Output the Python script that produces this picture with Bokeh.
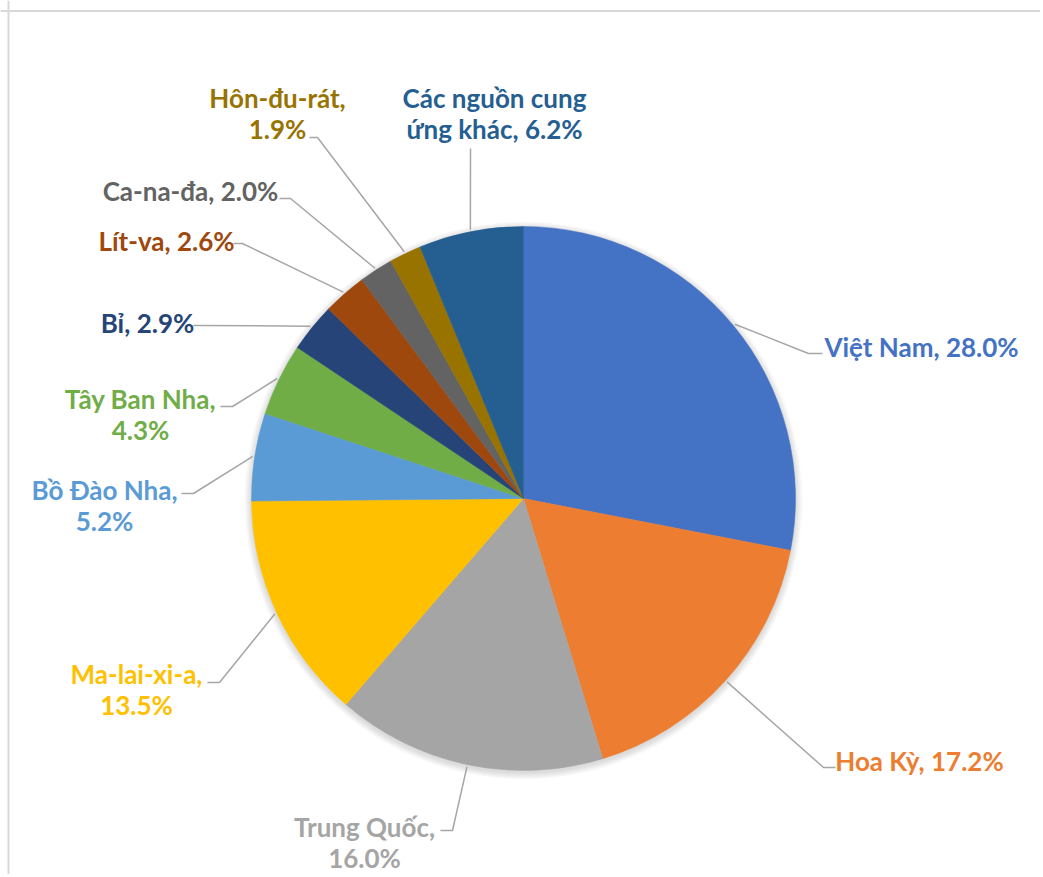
import math
from bokeh.plotting import figure
from bokeh.models import Range1d, Span, ColumnDataSource
from bokeh.core.properties import value
from bokeh.embed import file_html
from bokeh.resources import INLINE

# ---------------- data ----------------
countries = ["Việt Nam", "Hoa Kỳ", "Trung Quốc", "Ma-lai-xi-a", "Bồ Đào Nha",
             "Tây Ban Nha", "Bỉ", "Lít-va", "Ca-na-đa", "Hôn-đu-rát",
             "Các nguồn cung ứng khác"]
shares = [28.0, 17.2, 16.0, 13.5, 5.2, 4.3, 2.9, 2.6, 2.0, 1.9, 6.2]
colors = ["#4472C4", "#ED7D31", "#A5A5A5", "#FFC000", "#5B9BD5", "#70AD47",
          "#264478", "#9E480E", "#636363", "#997300", "#255E91"]
# number of words on the first label line (None = single line)
first_line_words = [None, None, 2, 1, 3, 3, None, None, None, 1, 3]

# ---------------- layout (page pixel coordinates) ----------------
W, H = 1040, 874
OX, OY = 0, 0
PAGE_H = 877
CX, CY, R = 523, 498, 272
label_x = [921, 919, 364, 136, 104, 140, 147, 166, 190, 277, 494]
label_y = [346, 760, 826, 673, 489, 398, 322, 240, 190, 97, 97]
line_gap = 31
elbow = [(808, 353), (823, 767), (452, 830), (219, 682), (193, 493), (232, 406),
         (200, 325), (242, 243), (290, 198), (317, 137), (470, 150)]
lead_end = [(822, 353), (835, 767), (440, 830), (207, 682), (181, 493), (220, 406),
            (193, 325), (233, 243), (279, 198), (309, 137), (470, 148)]

FONT = "Lato"
FONT_SIZE = "26px"


def fy(py):
    """page y -> data y (y axis pointing up)"""
    return PAGE_H - py


p = figure(width=W, height=H, output_backend="svg", toolbar_location=None,
           x_range=Range1d(OX, OX + W), y_range=Range1d(fy(OY + H), fy(OY)),
           min_border=0, x_axis_location=None, y_axis_location=None)
p.grid.visible = False
p.outline_line_color = None
p.background_fill_color = "white"
p.border_fill_color = "white"

# chart border (top and left visible in reference)
p.add_layout(Span(location=fy(10.5), dimension="width", line_color="#d9d9d9", line_width=2))
p.add_layout(Span(location=8, dimension="height", line_color="#d9d9d9", line_width=2))

# soft shadow
for i in range(1, 8):
    p.circle(x=[CX], y=[fy(CY + 2)], radius=R + i, fill_color="black",
             fill_alpha=0.018, line_color=None)

# wedges
total = sum(shares)
starts, ends, mids = [], [], []
cum = 0.0
for s in shares:
    a0 = math.pi / 2 - 2 * math.pi * cum / total
    cum += s
    a1 = math.pi / 2 - 2 * math.pi * cum / total
    starts.append(a0)
    ends.append(a1)
    mids.append((a0 + a1) / 2)

src = ColumnDataSource(dict(start=starts, end=ends, color=colors,
                            x=[CX] * len(shares), y=[fy(CY)] * len(shares)))
p.wedge(x="x", y="y", radius=R, start_angle="start", end_angle="end",
        direction="clock", fill_color="color", line_color="color",
        line_width=0.5, source=src)

# leader lines
xs, ys = [], []
for i, m in enumerate(mids):
    sx = CX + (R + 2) * math.cos(m)
    sy = fy(CY) + (R + 2) * math.sin(m)
    xs.append([sx, elbow[i][0], lead_end[i][0]])
    ys.append([sy, fy(elbow[i][1]), fy(lead_end[i][1])])
p.multi_line(xs=xs, ys=ys, line_color="#A6A6A6", line_width=1.5)

# labels
tx, ty, tt, tc = [], [], [], []
for i, name in enumerate(countries):
    words = f"{name}, {shares[i]:.1f}%".split(" ")
    n = first_line_words[i]
    lines = [" ".join(words)] if n is None else [" ".join(words[:n]), " ".join(words[n:])]
    for k, ln in enumerate(lines):
        tx.append(label_x[i])
        ty.append(fy(label_y[i] + k * line_gap))
        tt.append(ln)
        tc.append(colors[i])

p.text(x=tx, y=ty, text=tt, text_color=tc, text_align="center",
       text_baseline="middle", text_font=value(FONT), text_font_size=FONT_SIZE,
       text_font_style="bold")

open("out.html", "w").write(file_html(p, INLINE))
